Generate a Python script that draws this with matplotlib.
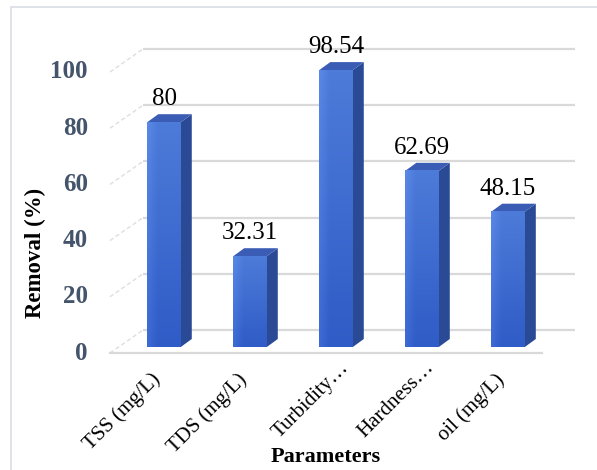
import matplotlib
matplotlib.use("Agg")
import numpy as np
import matplotlib.pyplot as plt
from matplotlib.patches import Polygon, Rectangle
from matplotlib.transforms import ScaledTranslation
from matplotlib.colors import to_rgb

# Data
categories = ["TSS (mg/L)", "TDS (mg/L)", "Turbidity\u2026", "Hardness\u2026", "oil (mg/L)"]
removal = [80, 32.31, 98.54, 62.69, 48.15]
value_labels = ["80", "32.31", "98.54", "62.69", "48.15"]
y_ticks = [0, 20, 40, 60, 80, 100]

SERIF = ["Liberation Serif", "DejaVu Serif"]
DPI = 100
W, H = 597, 470

fig = plt.figure(figsize=(W / DPI, H / DPI), dpi=DPI)
fig.patch.set_facecolor("white")

# outer chart border
fig.patches.append(Rectangle((11 / W, -0.1), 1.2, (H - 7) / H + 0.1,
                             transform=fig.transFigure, fill=False,
                             edgecolor="#d9dde3", lw=1.2))

# axes spans the front edge of the floor horizontally; y=0 is the bars' front base
ax_left, ax_right = 110, 542
ax_bottom, ax_top = H - 347, H - 66
ax = fig.add_axes([ax_left / W, ax_bottom / H, (ax_right - ax_left) / W, (ax_top - ax_bottom) / H])
x_pos = list(range(len(categories)))
xlim = (-0.628, 4.395)
ax.axis("off")

px_per_x = (ax_right - ax_left) / (xlim[1] - xlim[0])
px_per_y = (ax_top - ax_bottom) / 100.0


def shift(dx_px, dy_px):
    return ScaledTranslation(dx_px / DPI, dy_px / DPI, fig.dpi_scale_trans)


ax.set_xlim(*xlim)
ax.set_ylim(0, 100)
floor_front = ax.transData + shift(0, -6)
back_wall = ax.transData + shift(33, 17)

grid_col = "#d9d9d9"
for v in y_ticks:
    # back wall gridline
    ax.plot(xlim, [v, v], color=grid_col, lw=1.6, transform=back_wall, zorder=1,
            solid_capstyle="butt", clip_on=False)
    # side wall diagonal
    p0 = floor_front.transform((xlim[0], v))
    p1 = back_wall.transform((xlim[0], v))
    ax.plot([p0[0], p1[0]], [p0[1], p1[1]], color="#dedede", lw=1.0,
            ls=(0, (3, 2)), transform=None, zorder=1, clip_on=False)
# floor front edge
ax.plot(xlim, [0, 0], color=grid_col, lw=1.6, transform=floor_front, zorder=1,
        clip_on=False)

# 3D bars
bar_w = 0.39
ddx = 11 / px_per_x
ddy = 8 / px_per_y
front_col = "#3c6bd0"
side_col = "#2a4a96"
top_col = "#3a5cb5"
bars = ax.bar(x_pos, removal, width=bar_w, color=front_col, zorder=3,
              linewidth=0, clip_on=False)

# shaded front faces: lighter at the top, faint highlight near the left edge
c_top = np.array(to_rgb("#4d7bd9"))
c_bot = np.array(to_rgb("#2f5cc6"))
ny, nx = 64, 16
t = np.linspace(0, 1, ny)[:, None, None]          # 0 = top row
face = c_top * (1 - t) + c_bot * t
edge = np.clip(1 - np.linspace(0, 1, nx) / 0.3, 0, 1)[None, :, None]
face = np.clip(face + 0.05 * edge, 0, 1) * np.ones((ny, nx, 3))
for rect in bars:
    x0, w, h = rect.get_x(), rect.get_width(), rect.get_height()
    ax.imshow(face, extent=[x0, x0 + w, 0, h], aspect="auto",
              interpolation="bilinear", zorder=3.1, clip_on=False)

for x, v in zip(x_pos, removal):
    xl, xr = x - bar_w / 2, x + bar_w / 2
    side = Polygon([(xr, 0), (xr + ddx, ddy), (xr + ddx, v + ddy), (xr, v)],
                   closed=True, facecolor=side_col, edgecolor="none", zorder=3,
                   clip_on=False)
    top = Polygon([(xl, v), (xr, v), (xr + ddx, v + ddy), (xl + ddx, v + ddy)],
                  closed=True, facecolor=top_col, edgecolor="none", zorder=3,
                  clip_on=False)
    ax.add_patch(side)
    ax.add_patch(top)

ax.set_xlim(*xlim)
ax.set_ylim(0, 100)

# value labels
for x, v, s in zip(x_pos, removal, value_labels):
    ax.text(x, v, s, transform=ax.transData + shift(0, 17), ha="center",
            va="baseline", fontsize=18, family=SERIF, color="#000000", zorder=4)

# y tick labels on the front floor plane
for v in y_ticks:
    ax.text(xlim[0], v, str(v), transform=ax.transData + shift(-22, -6),
            ha="right", va="center", fontsize=18, fontweight="bold",
            family=SERIF, color="#44546a")

# category labels; truncated (wrapped) labels sit further along the slant
for x, s in zip(x_pos, categories):
    off = shift(3, -11) if s.endswith("\u2026") else shift(-13, -23)
    ax.text(x, 0, s, transform=ax.transData + off, ha="right",
            va="top", rotation=45, rotation_mode="anchor", fontsize=15,
            family=SERIF, color="#000000")

fig.text(35 / W, (H - 253) / H, "Removal (%)", rotation=90, ha="center",
         va="center", fontsize=16.5, fontweight="bold", family=SERIF)
fig.text(326 / W, (H - 457) / H, "Parameters", ha="center", va="center",
         fontsize=16, fontweight="bold", family=SERIF)

fig.savefig("out.png", dpi=DPI)
